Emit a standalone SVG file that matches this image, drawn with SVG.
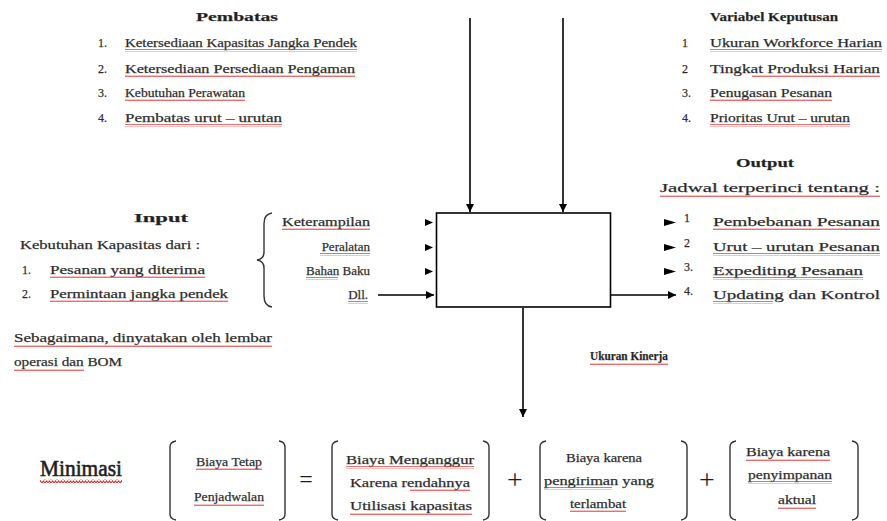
<svg xmlns="http://www.w3.org/2000/svg" width="887" height="521" viewBox="0 0 887 521">
<defs>
<style>
text{font-family:"Liberation Serif","Times New Roman",serif;font-size:12px;fill:#1e1e1e;stroke:#444;stroke-width:0.25}
.b{font-weight:bold;font-size:13px}
.m{text-anchor:middle}
.e{text-anchor:end}
.ln{stroke:#000;stroke-width:1.6;fill:none}
.br{stroke:#333;stroke-width:1.4;fill:none}
.ah{fill:#000}
.sp{fill:url(#wave)}
.op{font-size:24px;stroke-width:0}
</style>
<pattern id="wave" width="4" height="3" patternUnits="userSpaceOnUse">
<path d="M0 2 L1 0.6 L2 2 L3 0.6 L4 2" stroke="#e03030" stroke-width="0.8" fill="none"/>
</pattern>
<pattern id="wave2" width="6" height="4" patternUnits="userSpaceOnUse">
<path d="M0 3 L1.5 1 L3 3 L4.5 1 L6 3" stroke="#e03030" stroke-width="1.1" fill="none"/>
</pattern>
<marker id="arr" viewBox="0 0 10 10" refX="10" refY="5" markerWidth="5" markerHeight="5" orient="auto" markerUnits="strokeWidth">
<path d="M0 0 L10 5 L0 10 Z" fill="#000"/>
</marker>
</defs>
<rect width="887" height="521" fill="#fff"/>

<g id="connectors">
<line class="ln" x1="470" y1="18" x2="470" y2="212" marker-end="url(#arr)"/>
<line class="ln" x1="563" y1="18" x2="563" y2="212" marker-end="url(#arr)"/>
<line class="ln" x1="378" y1="295" x2="434" y2="295" marker-end="url(#arr)"/>
<line class="ln" x1="611" y1="295" x2="676" y2="295" marker-end="url(#arr)"/>
<line class="ln" x1="523" y1="308" x2="523" y2="417" marker-end="url(#arr)"/>
<path class="ah" d="M425 219 L433 222.5 L425 226 Z"/>
<path class="ah" d="M425 244 L433 247.5 L425 251 Z"/>
<path class="ah" d="M425 268 L433 271.5 L425 275 Z"/>
<path class="ah" d="M664 219 L676 222.5 L664 226 Z"/>
<path class="ah" d="M664 244 L676 247.5 L664 251 Z"/>
<path class="ah" d="M664 268 L676 271.5 L664 275 Z"/>
</g>

<g id="process">
<rect x="436.5" y="213" width="174" height="94" fill="#fff" stroke="#000" stroke-width="1.6"/>
</g>

<g id="pembatas">
<text class="b" x="196" y="21" textLength="82" lengthAdjust="spacingAndGlyphs">Pembatas</text>
<text x="98" y="47">1.</text>
<text x="98" y="73">2.</text>
<text x="98" y="97">3.</text>
<text x="98" y="122">4.</text>
<text x="125" y="47" textLength="232" lengthAdjust="spacingAndGlyphs">Ketersediaan Kapasitas  Jangka Pendek</text>
<text x="125" y="73" textLength="230" lengthAdjust="spacingAndGlyphs">Ketersediaan Persediaan Pengaman</text>
<text x="125" y="97" textLength="120" lengthAdjust="spacingAndGlyphs">Kebutuhan Perawatan</text>
<text x="125" y="122" textLength="157" lengthAdjust="spacingAndGlyphs">Pembatas urut – urutan</text>
<rect class="sp" x="125" y="49" width="232" height="3"/>
<rect class="sp" x="125" y="75" width="230" height="3"/>
<rect class="sp" x="125" y="99" width="120" height="3"/>
<rect class="sp" x="125" y="124" width="157" height="3"/>
</g>

<g id="variabel">
<text class="b" x="710" y="21" textLength="128" lengthAdjust="spacingAndGlyphs">Variabel Keputusan</text>
<text x="682" y="47">1</text>
<text x="682" y="73">2</text>
<text x="682" y="97">3.</text>
<text x="682" y="122">4.</text>
<text x="710" y="47" textLength="172" lengthAdjust="spacingAndGlyphs">Ukuran Workforce Harian</text>
<text x="710" y="73" textLength="170" lengthAdjust="spacingAndGlyphs">Tingkat Produksi Harian</text>
<text x="710" y="97" textLength="122" lengthAdjust="spacingAndGlyphs">Penugasan Pesanan</text>
<text x="710" y="122" textLength="140" lengthAdjust="spacingAndGlyphs">Prioritas Urut – urutan</text>
<rect class="sp" x="710" y="49" width="172" height="3"/>
<rect class="sp" x="752" y="75" width="128" height="3"/>
<rect class="sp" x="710" y="99" width="122" height="3"/>
<rect class="sp" x="710" y="124" width="140" height="3"/>
</g>

<g id="input">
<text class="b" x="134" y="222" textLength="54" lengthAdjust="spacingAndGlyphs">Input</text>
<text x="20" y="249" textLength="180" lengthAdjust="spacingAndGlyphs">Kebutuhan Kapasitas dari :</text>
<text x="22" y="274">1.</text>
<text x="22" y="298">2.</text>
<text x="50" y="274" textLength="155" lengthAdjust="spacingAndGlyphs">Pesanan yang diterima</text>
<text x="50" y="298" textLength="178" lengthAdjust="spacingAndGlyphs">Permintaan jangka pendek</text>
<text x="14" y="342" textLength="258" lengthAdjust="spacingAndGlyphs">Sebagaimana, dinyatakan oleh lembar</text>
<text x="14" y="366" textLength="108" lengthAdjust="spacingAndGlyphs">operasi dan BOM</text>
<rect class="sp" x="50" y="276" width="155" height="3"/>
<rect class="sp" x="50" y="300" width="178" height="3"/>
<rect class="sp" x="14" y="344" width="258" height="3"/>
<rect class="sp" x="14" y="368" width="70" height="3"/>
</g>

<g id="sumber">
<path class="br" d="M272 213 Q264 214 264 224 L264 252 Q264 259 257 260 Q264 261 264 268 L264 296 Q264 306 272 307"/>
<text class="e" x="370" y="226" textLength="88" lengthAdjust="spacingAndGlyphs">Keterampilan</text>
<text class="e" x="370" y="251" style="font-size:13px">Peralatan</text>
<text class="e" x="370" y="275" style="font-size:13px">Bahan Baku</text>
<text class="e" x="368" y="299" style="font-size:13px">Dll.</text>
<rect class="sp" x="320" y="253" width="50" height="3"/>
<rect class="sp" x="306" y="277" width="32" height="3"/>
<rect class="sp" x="348" y="301" width="20" height="3"/>
<rect class="sp" x="282" y="228" width="88" height="3"/>
</g>

<g id="output">
<text class="b" x="736" y="167" textLength="58" lengthAdjust="spacingAndGlyphs">Output</text>
<text x="660" y="192" textLength="220" lengthAdjust="spacingAndGlyphs">Jadwal terperinci tentang :</text>
<text x="684" y="222">1</text>
<text x="684" y="247">2</text>
<text x="684" y="271">3.</text>
<text x="684" y="295">4.</text>
<text x="713" y="226" textLength="167" lengthAdjust="spacingAndGlyphs">Pembebanan Pesanan</text>
<text x="713" y="251" textLength="167" lengthAdjust="spacingAndGlyphs">Urut – urutan Pesanan</text>
<text x="713" y="275" textLength="150" lengthAdjust="spacingAndGlyphs">Expediting Pesanan</text>
<text x="713" y="299" textLength="167" lengthAdjust="spacingAndGlyphs">Updating dan Kontrol</text>
<rect class="sp" x="660" y="194" width="220" height="3"/>
<rect class="sp" x="713" y="228" width="167" height="3"/>
<rect class="sp" x="713" y="253" width="167" height="3"/>
<rect class="sp" x="713" y="277" width="150" height="3"/>
<rect class="sp" x="713" y="301" width="60" height="3"/>
</g>

<g id="kinerja">
<text class="b" x="590" y="360" style="font-size:12px" textLength="78" lengthAdjust="spacingAndGlyphs">Ukuran Kinerja</text>
<rect class="sp" x="590" y="362" width="78" height="3"/>
</g>

<g id="minimasi">
<text x="40" y="476" style="font-size:23px;stroke:#222;stroke-width:0.6" textLength="82" lengthAdjust="spacingAndGlyphs">Minimasi</text>
<rect x="40" y="479" width="82" height="4" fill="url(#wave2)"/>
</g>

<g id="biaya-tetap">
<path class="br" d="M176 441 Q170 442 170 447 L170 514 Q170 519 176 520"/>
<path class="br" d="M279 441 Q285 442 285 447 L285 514 Q285 519 279 520"/>
<text x="196" y="466" style="font-size:13px" textLength="66" lengthAdjust="spacingAndGlyphs">Biaya Tetap</text>
<text x="194" y="501" style="font-size:13px" textLength="70" lengthAdjust="spacingAndGlyphs">Penjadwalan</text>
<rect class="sp" x="196" y="468" width="66" height="3"/>
<rect class="sp" x="194" y="503" width="70" height="3"/>
</g>

<text class="m op" x="306" y="487">=</text>

<g id="biaya-menganggur">
<path class="br" d="M338 441 Q332 442 332 447 L332 514 Q332 519 338 520"/>
<path class="br" d="M483 441 Q489 442 489 447 L489 514 Q489 519 483 520"/>
<text x="346" y="464" textLength="128" lengthAdjust="spacingAndGlyphs">Biaya Menganggur</text>
<text x="350" y="487" textLength="120" lengthAdjust="spacingAndGlyphs">Karena rendahnya</text>
<text x="350" y="510" textLength="122" lengthAdjust="spacingAndGlyphs">Utilisasi kapasitas</text>
<rect class="sp" x="346" y="466" width="128" height="3"/>
<rect class="sp" x="410" y="489" width="60" height="3"/>
<rect class="sp" x="350" y="512" width="122" height="3"/>
</g>

<text class="m op" x="515" y="489" style="font-size:28px">+</text>

<g id="biaya-terlambat">
<path class="br" d="M546 441 Q540 442 540 447 L540 514 Q540 519 546 520"/>
<path class="br" d="M681 441 Q687 442 687 447 L687 514 Q687 519 681 520"/>
<text x="566" y="462" textLength="76" lengthAdjust="spacingAndGlyphs">Biaya karena</text>
<text x="544" y="485" textLength="110" lengthAdjust="spacingAndGlyphs">pengiriman yang</text>
<text x="570" y="508" textLength="56" lengthAdjust="spacingAndGlyphs">terlambat</text>
<rect class="sp" x="544" y="487" width="68" height="3"/>
<rect class="sp" x="570" y="510" width="56" height="3"/>
</g>

<text class="m op" x="707" y="489" style="font-size:28px">+</text>

<g id="biaya-penyimpanan">
<path class="br" d="M736 441 Q730 442 730 447 L730 514 Q730 519 736 520"/>
<path class="br" d="M852 441 Q858 442 858 447 L858 514 Q858 519 852 520"/>
<text x="746" y="456" textLength="84" lengthAdjust="spacingAndGlyphs">Biaya karena</text>
<text x="748" y="479" textLength="84" lengthAdjust="spacingAndGlyphs">penyimpanan</text>
<text x="778" y="504" textLength="38" lengthAdjust="spacingAndGlyphs">aktual</text>
<rect class="sp" x="746" y="458" width="84" height="3"/>
<rect class="sp" x="748" y="481" width="84" height="3"/>
<rect class="sp" x="778" y="506" width="38" height="3"/>
</g>
</svg>
